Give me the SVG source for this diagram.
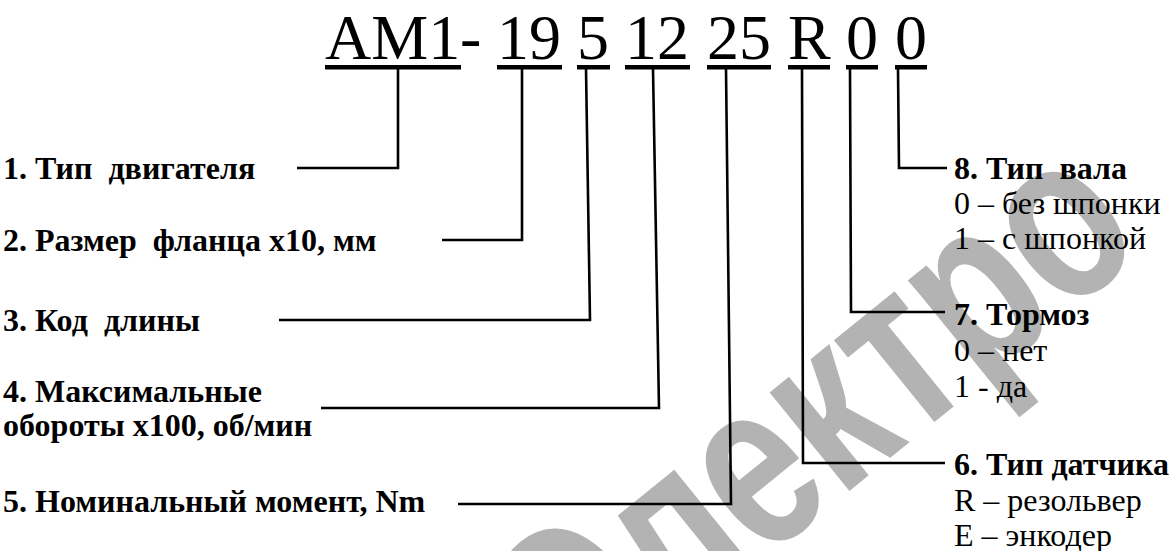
<svg xmlns="http://www.w3.org/2000/svg" width="1176" height="551" viewBox="0 0 1176 551">
<style>
.wm{font-family:"Liberation Sans",Arial,sans-serif;font-weight:bold;font-size:240px;fill:#b3b3b3}
.hdr{font-family:"Liberation Serif","Times New Roman",serif;font-size:64px;fill:#000}
.lbl{font-family:"Liberation Serif","Times New Roman",serif;font-size:32px;font-weight:bold;fill:#000;white-space:pre}
.sub{font-family:"Liberation Serif","Times New Roman",serif;font-size:32px;fill:#000;white-space:pre}
.conn{fill:none;stroke:#000;stroke-width:2.6;stroke-linejoin:miter}
.ul{fill:#000}
</style>
<rect width="1176" height="551" fill="#fff"/>
<text class="wm" transform="translate(579,710) rotate(-39) scale(0.75,1)">Электро</text>
<g id="header">
<text class="hdr" x="325" y="59">AM1</text>
<text class="hdr" x="460" y="59">-</text>
<text class="hdr" x="497" y="59">19</text>
<text class="hdr" x="577" y="59">5</text>
<text class="hdr" x="625" y="59">12</text>
<text class="hdr" x="707" y="59">25</text>
<text class="hdr" x="788" y="59">R</text>
<text class="hdr" x="846" y="59">0</text>
<text class="hdr" x="895" y="59">0</text>
<rect class="ul" x="325" y="65" width="136" height="4.5"/>
<rect class="ul" x="497" y="65" width="65" height="4.5"/>
<rect class="ul" x="577" y="65" width="33" height="4.5"/>
<rect class="ul" x="625" y="65" width="65" height="4.5"/>
<rect class="ul" x="707" y="65" width="64" height="4.5"/>
<rect class="ul" x="788" y="65" width="42" height="4.5"/>
<rect class="ul" x="846" y="65" width="32" height="4.5"/>
<rect class="ul" x="895" y="65" width="32" height="4.5"/>
</g>
<g id="connectors">
<path class="conn" d="M398,69 V168 H297"/>
<path class="conn" d="M522,69 V240 H442"/>
<path class="conn" d="M586,69 L590,320 H279"/>
<path class="conn" d="M653,69 L659,408 H321"/>
<path class="conn" d="M726,69 L731,504 H458"/>
<path class="conn" d="M802,69 L803,463 H945"/>
<path class="conn" d="M850,69 L851,312 H945"/>
<path class="conn" d="M898,69 L899,168 H947"/>
</g>
<g id="n1"><text class="lbl" x="3" y="179">1. Тип  двигателя</text></g>
<g id="n2"><text class="lbl" x="3" y="251">2. Размер  фланца х10, мм</text></g>
<g id="n3"><text class="lbl" x="3" y="331">3. Код  длины</text></g>
<g id="n4"><text class="lbl" x="3" y="402">4. Максимальные</text><text class="lbl" x="3" y="436">обороты х100, об/мин</text></g>
<g id="n5"><text class="lbl" x="3" y="512">5. Номинальный момент, Nm</text></g>
<g id="n8"><text class="lbl" x="954" y="179">8. Тип  вала</text><text class="sub" x="954" y="214">0 – без шпонки</text><text class="sub" x="954" y="249">1 – с шпонкой</text></g>
<g id="n7"><text class="lbl" x="954" y="325">7. Тормоз</text><text class="sub" x="954" y="361">0 – нет</text><text class="sub" x="954" y="397">1 - да</text></g>
<g id="n6"><text class="lbl" x="954" y="475">6. Тип датчика</text><text class="sub" x="954" y="511">R – резольвер</text><text class="sub" x="954" y="546">E – энкодер</text></g>
</svg>
